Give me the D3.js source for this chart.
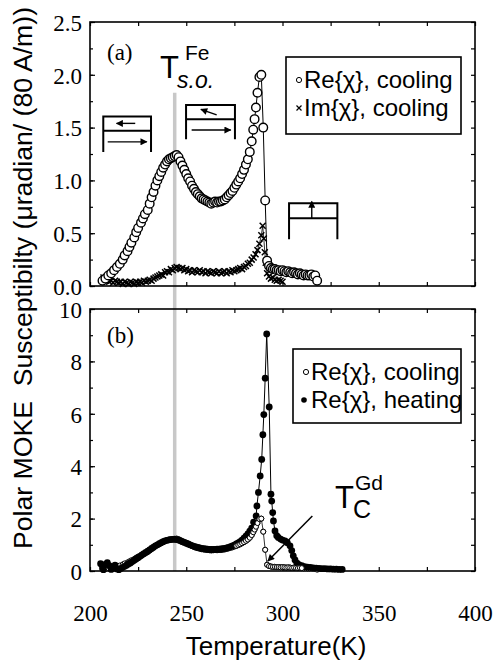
<!DOCTYPE html>
<html>
<head>
<meta charset="utf-8">
<script src="https://cdn.jsdelivr.net/npm/d3@7"></script>
<style>
body { margin: 0; background: #fff; }
.num { font-family: "Liberation Serif", "Times New Roman", serif; font-size: 23px; }
.sans { font-family: "Liberation Sans", Arial, sans-serif; }
.tick line { stroke: #000; stroke-width: 1.2; }
</style>
</head>
<body>
<div id="chart"></div>
<script>

// ---- data ----
// panel (a): Re{chi} cooling, [T (K), value]
var reCooling = [
  [206.5,0.05],[208,0.07],[209.5,0.10],[211,0.12],[212.5,0.15],[214,0.18],[215.5,0.21],[217,0.25],
  [218,0.29],[219.5,0.33],[220.5,0.37],[221.5,0.41],[223,0.46],[224,0.51],[225,0.55],[226.5,0.60],
  [227.5,0.64],[228.5,0.68],[230,0.72],[231,0.78],[232,0.84],[233,0.89],[234,0.95],[235,1.00],
  [236,1.04],[237,1.08],[238,1.12],[239,1.15],[240,1.18],[241,1.20],[242,1.21],[243,1.22],
  [244,1.23],[245,1.24],[246,1.22],[247,1.18],[248,1.14],[249,1.10],[250,1.06],[251,1.02],
  [252,0.99],[253,0.95],[254,0.92],[255,0.89],[256,0.87],[257,0.85],[258,0.83],[259,0.82],
  [260,0.81],[261,0.80],[262,0.79],[263,0.78],[264,0.79],[265,0.80],[266,0.79],[267,0.80],
  [268,0.80],[269,0.81],[270,0.82],[271,0.84],[272,0.86],[273,0.88],[274,0.90],[275,0.93],
  [276,0.96],[277,0.99],[278,1.02],[279,1.06],[280,1.10],[281,1.15],[282,1.20],[283,1.27],
  [284,1.37],[284.8,1.48],[285.5,1.58],[286.2,1.69],[287,1.83],[288,1.98],[289,2.00],[290,1.50],
  [291,0.81],[292,0.24],[293,0.19],[294,0.17],[295,0.16],[296,0.16],[297,0.15],[298,0.15],
  [299,0.14],[300,0.15],[301,0.14],[302,0.13],[303,0.14],[304,0.13],[305,0.12],[306,0.13],
  [307,0.12],[308,0.11],[309,0.12],[310,0.11],[311,0.10],[312,0.11],[313,0.10],[314,0.10],
  [315,0.11],[316,0.09],[317,0.10],[318,0.05]
];

// panel (a): Im{chi} cooling
var imCooling = [
  [207,0.08],[208,0.05],[209,0.06],[210,0.04],[211,0.05],[212,0.03],[213,0.05],[214,0.04],
  [215,0.03],[216,0.04],[217,0.02],[218,0.04],[219,0.03],[220,0.02],[221,0.04],[222,0.03],
  [223,0.02],[224,0.04],[225,0.03],[226,0.04],[227,0.03],[228,0.05],[229,0.04],[230,0.05],
  [231,0.06],[232,0.05],[233,0.07],[234,0.08],[235,0.09],[236,0.10],[237,0.11],[238,0.10],
  [239,0.13],[240,0.14],[241,0.13],[242,0.16],[243,0.15],[244,0.17],[245,0.18],[246,0.17],
  [247,0.16],[248,0.17],[249,0.15],[250,0.16],[251,0.14],[252,0.15],[253,0.13],[254,0.15],
  [255,0.14],[256,0.13],[257,0.15],[258,0.13],[259,0.14],[260,0.12],[261,0.14],[262,0.13],
  [263,0.12],[264,0.14],[265,0.13],[266,0.12],[267,0.14],[268,0.12],[269,0.13],[270,0.14],
  [271,0.12],[272,0.14],[273,0.13],[274,0.15],[275,0.14],[276,0.15],[277,0.16],[278,0.17],
  [279,0.16],[280,0.18],[281,0.19],[282,0.21],[283,0.22],[284,0.25],[285,0.27],[286,0.30],
  [287,0.34],[288,0.40],[289,0.48],[289.7,0.57],[290.3,0.45],[290.8,0.32],[291.3,0.22],[292,0.12],
  [293,0.09],[294,0.07],[295,0.08],[296,0.06],[297,0.05],[298,0.06],[299,0.05],[300,0.04]
];

// panel (b): Re{chi} heating
var reHeating = [
  [205.5,0.28],[206.5,0.12],[207,0.05],[208,0.25],[209,0.32],[210,0.20],[211,0.06],[212,0.12],
  [213,0.22],[214,0.08],[215,0.05],[216,0.10],[217,0.14],[218,0.18],[219,0.22],[220,0.27],
  [221,0.31],[222,0.36],[223,0.41],[224,0.46],[225,0.51],[226,0.56],[227,0.61],[228,0.66],
  [229,0.71],[230,0.76],[231,0.81],[232,0.86],[233,0.91],[234,0.96],[235,1.00],[236,1.04],
  [237,1.08],[238,1.12],[239,1.15],[240,1.17],[241,1.19],[242,1.20],[243,1.21],[244,1.21],
  [245,1.20],[246,1.18],[247,1.15],[248,1.12],[249,1.09],[250,1.06],[251,1.03],[252,1.00],
  [253,0.97],[254,0.94],[255,0.92],[256,0.90],[257,0.88],[258,0.86],[259,0.85],[260,0.84],
  [261,0.83],[262,0.82],[263,0.82],[264,0.82],[265,0.82],[266,0.83],[267,0.83],[268,0.84],
  [269,0.85],[270,0.86],[271,0.88],[272,0.90],[273,0.93],[274,0.96],[275,0.99],[276,1.03],
  [277,1.07],[278,1.12],[279,1.18],[280,1.25],[281,1.33],[282,1.42],[283,1.52],[284,1.64],
  [285,1.86],[286.3,2.10],[286.7,2.48],[287.5,3.00],[288.4,3.63],[289.2,4.26],[289.8,5.20],[290.3,5.97],
  [291,7.36],[291.8,9.05],[293.1,6.26],[294,2.93],[294.4,2.67],[294.9,2.23],[295.3,1.91],[296.1,1.53],
  [297,1.35],[297.8,1.28],[299,1.22],[300,1.18],[301.3,1.15],[302.5,1.08],[303.9,0.96],[304.8,0.78],
  [305.6,0.58],[306.5,0.42],[307.5,0.30],[308.5,0.24],[310,0.20],[311.5,0.17],[313,0.15],[314.5,0.14],
  [316,0.12],[317.5,0.11],[319,0.10],[320.5,0.09],[322,0.09],[323.5,0.08],[325,0.08],[326.5,0.07],
  [328,0.07],[329.5,0.06],[331,0.06]
];

var xTickLabels = [200, 250, 300, 350, 400];
var topYTickLabels = [0, 0.5, 1.0, 1.5, 2.0, 2.5];
var botYTickLabels = [0, 2, 4, 6, 8, 10];
var spinOrderTemp = 244;   // T_s.o.^Fe, grey line

// ---- layout ----
var W = 494, H = 660;
var left = 90, right = 475;
var topA = 22, botA = 286;
var topB = 309, botB = 571;

var svg = d3.select("#chart").append("svg")
    .attr("width", W)
    .attr("height", H);

var x = d3.scaleLinear().domain([200, 400]).range([left, right]);
var yA = d3.scaleLinear().domain([0, 2.5]).range([botA, topA]);
var yB = d3.scaleLinear().domain([0, 10]).range([botB, topB]);

// grey line behind everything
svg.append("line")
    .attr("x1", x(spinOrderTemp)).attr("x2", x(spinOrderTemp))
    .attr("y1", yA(1.83)).attr("y2", botB)
    .attr("stroke", "#c8c8c8")
    .attr("stroke-width", 3.5);

function drawAxes(y, yTop, yBot, majors, minorStep, fmt, showX) {
    var g = svg.append("g");
    var minors = d3.range(y.domain()[0], y.domain()[1] + 1e-9, minorStep);
    var xMinor = d3.range(200, 401, 25);

    // left labelled ticks
    g.append("g").attr("class", "num")
        .attr("transform", "translate(" + left + ",0)")
        .call(d3.axisLeft(y).tickValues(majors).tickSize(-5).tickPadding(8).tickFormat(fmt))
        .call(function (a) { a.select(".domain").remove(); a.selectAll("text").attr("font-size", 23).attr("dy", "0.36em"); });
    g.append("g")
        .attr("transform", "translate(" + left + ",0)")
        .call(d3.axisLeft(y).tickValues(minors).tickSize(-3).tickFormat(""))
        .select(".domain").remove();
    g.append("g")
        .attr("transform", "translate(" + right + ",0)")
        .call(d3.axisRight(y).tickValues(minors).tickSize(-4).tickFormat(""))
        .select(".domain").remove();
    g.append("g")
        .attr("transform", "translate(0," + yTop + ")")
        .call(d3.axisTop(x).tickValues(xMinor).tickSize(-4).tickFormat(""))
        .select(".domain").remove();
    g.append("g")
        .attr("transform", "translate(0," + yBot + ")")
        .call(d3.axisBottom(x).tickValues(xMinor).tickSize(-4).tickFormat(""))
        .select(".domain").remove();
    if (showX) {
        g.append("g").attr("class", "num")
            .attr("transform", "translate(0," + yBot + ")")
            .call(d3.axisBottom(x).tickValues(xTickLabels).tickSize(0).tickPadding(34).tickFormat(d3.format("d")))
            .call(function (a) { a.select(".domain").remove(); a.selectAll("text").attr("font-size", 23); });
    }
    g.append("rect")
        .attr("x", left).attr("y", yTop)
        .attr("width", right - left).attr("height", yBot - yTop)
        .attr("fill", "none").attr("stroke", "#000").attr("stroke-width", 1.6);
}

drawAxes(yA, topA, botA, topYTickLabels, 0.25, d3.format(".1f"), false);
drawAxes(yB, topB, botB, botYTickLabels, 1, d3.format("d"), true);

// ---- panel (a) data ----
var lineA = d3.line().x(function (d) { return x(d[0]); }).y(function (d) { return yA(d[1]); });
var lineB = d3.line().x(function (d) { return x(d[0]); }).y(function (d) { return yB(d[1]); });

svg.append("path").datum(imCooling)
    .attr("d", lineA).attr("fill", "none").attr("stroke", "#000").attr("stroke-width", 0.8);
svg.append("g").selectAll("path").data(imCooling).enter().append("path")
    .attr("transform", function (d) { return "translate(" + x(d[0]) + "," + yA(d[1]) + ")"; })
    .attr("d", "M-3,-3L3,3M-3,3L3,-3")
    .attr("stroke", "#000").attr("stroke-width", 1.5);

svg.append("path").datum(reCooling)
    .attr("d", lineA).attr("fill", "none").attr("stroke", "#000").attr("stroke-width", 1);
svg.append("g").selectAll("circle").data(reCooling).enter().append("circle")
    .attr("cx", function (d) { return x(d[0]); })
    .attr("cy", function (d) { return yA(d[1]); })
    .attr("r", 4.3)
    .attr("fill", "#fff").attr("stroke", "#000").attr("stroke-width", 1.4);

// ---- panel (b) data ----
svg.append("path").datum(reCooling)
    .attr("d", lineB).attr("fill", "none").attr("stroke", "#000").attr("stroke-width", 0.8);
svg.append("g").selectAll("circle").data(reCooling).enter().append("circle")
    .attr("cx", function (d) { return x(d[0]); })
    .attr("cy", function (d) { return yB(d[1]); })
    .attr("r", 2.5)
    .attr("fill", "#fff").attr("stroke", "#000").attr("stroke-width", 1);

svg.append("path").datum(reHeating)
    .attr("d", lineB).attr("fill", "none").attr("stroke", "#000").attr("stroke-width", 1);
svg.append("g").selectAll("circle").data(reHeating).enter().append("circle")
    .attr("cx", function (d) { return x(d[0]); })
    .attr("cy", function (d) { return yB(d[1]); })
    .attr("r", 3.4)
    .attr("fill", "#000");
// cooling circles stay visible on top where the two runs overlap near the peak
svg.append("g").selectAll("circle").data(reCooling.filter(function (d) { return d[0] >= 276 && d[0] <= 310; })).enter().append("circle")
    .attr("cx", function (d) { return x(d[0]); })
    .attr("cy", function (d) { return yB(d[1]); })
    .attr("r", 2.5)
    .attr("fill", "#fff").attr("stroke", "#000").attr("stroke-width", 1);

// ---- insets (magnetisation sketches) ----
svg.append("defs").append("marker")
    .attr("id", "head").attr("viewBox", "0 0 10 10")
    .attr("refX", 9).attr("refY", 5)
    .attr("markerWidth", 9).attr("markerHeight", 7)
    .attr("markerUnits", "userSpaceOnUse")
    .attr("orient", "auto")
    .append("path").attr("d", "M0,0L10,5L0,10Z").attr("fill", "#000");

function inset(t0, t1, vTop, vMid, vBot) {
    var g = svg.append("g").attr("fill", "none").attr("stroke", "#000").attr("stroke-width", 2);
    g.append("path").attr("d",
        "M" + x(t0) + "," + yA(vBot) + "V" + yA(vTop) + "H" + x(t1) + "V" + yA(vBot) +
        "M" + x(t0) + "," + yA(vMid) + "H" + x(t1));
    return g;
}
function arrow(g, t0, v0, t1, v1) {
    g.append("line")
        .attr("x1", x(t0)).attr("y1", yA(v0)).attr("x2", x(t1)).attr("y2", yA(v1))
        .attr("stroke-width", 1.4).attr("marker-end", "url(#head)");
}

var g1 = inset(206.9, 231.7, 1.605, 1.47, 1.27);
arrow(g1, 223.5, 1.54, 213.8, 1.54);
arrow(g1, 209.2, 1.365, 229.5, 1.365);

var g2 = inset(249.9, 275.3, 1.714, 1.579, 1.389);
arrow(g2, 265.8, 1.620, 257.6, 1.673);
arrow(g2, 252.8, 1.477, 273.1, 1.477);

var g3 = inset(303.4, 328.5, 0.783, 0.641, 0.442);
arrow(g3, 315.2, 0.641, 315.2, 0.80);

// ---- legends ----
function legend(yTop, yBot, xl, rows) {
    svg.append("rect")
        .attr("x", xl).attr("y", yTop)
        .attr("width", 461 - xl).attr("height", yBot - yTop)
        .attr("fill", "#fff").attr("stroke", "#000").attr("stroke-width", 1.6);
    rows.forEach(function (r, i) {
        var by = yTop + 31 + i * 28;
        if (r.sym === "o") {
            svg.append("circle").attr("cx", xl + 13).attr("cy", by - 8).attr("r", 2.6)
                .attr("fill", "#fff").attr("stroke", "#000").attr("stroke-width", 1);
        } else if (r.sym === "x") {
            svg.append("path").attr("transform", "translate(" + (xl + 13) + "," + (by - 8) + ")")
                .attr("d", "M-2.5,-2.5L2.5,2.5M-2.5,2.5L2.5,-2.5").attr("stroke", "#000").attr("stroke-width", 1.2);
        } else {
            svg.append("circle").attr("cx", xl + 11).attr("cy", by - 8).attr("r", 2.8).attr("fill", "#000");
        }
        svg.append("text").attr("class", "sans")
            .attr("x", xl + 18).attr("y", by)
            .attr("font-size", 24)
            .text(r.label);
    });
}
legend(57, 134, 286, [{sym: "o", label: "Re{\u03c7}, cooling"}, {sym: "x", label: "Im{\u03c7}, cooling"}]);
legend(349, 423, 293, [{sym: "o", label: "Re{\u03c7}, cooling"}, {sym: "f", label: "Re{\u03c7}, heating"}]);

// ---- labels ----
svg.append("text").attr("class", "num").attr("x", 107).attr("y", 60).attr("font-size", 22).text("(a)");
svg.append("text").attr("class", "num").attr("x", 107).attr("y", 343).attr("font-size", 22).text("(b)");

// T_s.o.^Fe as one text with tspans
var tso = svg.append("text").attr("class", "sans");
tso.append("tspan").attr("x", 160).attr("y", 78).attr("font-size", 31).text("T");
tso.append("tspan").attr("x", 185).attr("y", 60).attr("font-size", 21).text("Fe");
tso.append("tspan").attr("x", 177).attr("y", 88).attr("font-size", 23).attr("font-style", "italic").text("s.o.");

// T_C^Gd with arrow
var tc = svg.append("text").attr("class", "sans");
tc.append("tspan").attr("x", 335).attr("y", 508).attr("font-size", 31).text("T");
tc.append("tspan").attr("x", 355).attr("y", 490).attr("font-size", 21).text("Gd");
tc.append("tspan").attr("x", 353).attr("y", 518).attr("font-size", 25).text("C");
svg.append("line")
    .attr("x1", x(315.5)).attr("y1", yB(2.1)).attr("x2", x(292.4)).attr("y2", yB(0.38))
    .attr("stroke", "#000").attr("stroke-width", 1.5).attr("marker-end", "url(#head)");

// axis titles
svg.append("text").attr("class", "sans")
    .attr("x", 276).attr("y", 655)
    .attr("text-anchor", "middle").attr("font-size", 26)
    .text("Temperature(K)");

svg.append("text").attr("class", "sans")
    .attr("transform", "translate(32,278) rotate(-90)")
    .attr("text-anchor", "middle").attr("font-size", 26)
    .attr("textLength", 542).attr("lengthAdjust", "spacingAndGlyphs")
    .style("white-space", "pre")
    .text("Polar MOKE  Susceptibilty (\u03bcradian/ (80 A/m))");

</script>
</body>
</html>
